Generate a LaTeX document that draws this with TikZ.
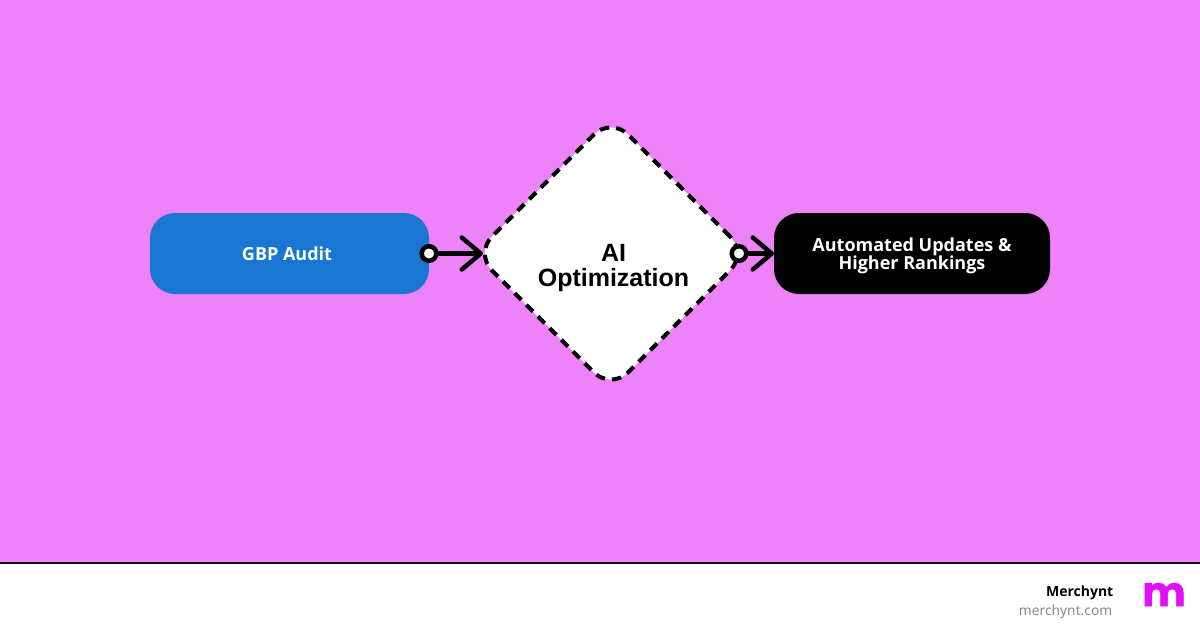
\documentclass[tikz,border=0pt]{standalone}
\usepackage{fontspec}
\setmainfont{Noto Sans}
\newfontfamily\uibold{Open Sans}
\newfontfamily\diafont{Liberation Sans}
\newfontfamily\logofont{Poppins}[BoldFeatures={FakeBold=1.2}]
\usetikzlibrary{shapes.geometric,arrows.meta}
\definecolor{bgpink}{HTML}{EE82F9}
\definecolor{bluebox}{HTML}{1976D2}
\definecolor{logopink}{HTML}{E010F8}
\definecolor{graytext}{HTML}{8A8A8A}
\tikzset{
  pill/.style={rounded corners=25pt,minimum height=81pt,inner sep=0pt,outer sep=0pt,align=center,text=white,font=\uibold\bfseries\fontsize{18}{18}\selectfont},
  dia/.style={diamond,aspect=1,minimum width=272pt,minimum height=272pt,inner sep=0pt,outer sep=0pt,fill=white,draw=black,line width=4pt,rounded corners=24pt,dash pattern=on 9.5pt off 7pt},
  portdot/.style={circle,minimum size=14.5pt,inner sep=0pt,outer sep=0pt,fill=white,draw=black,line width=4.5pt},
  conn/.style={draw=black,line width=4.5pt,-{Straight Barb[length=19pt,width=32pt,round]}}
}
\begin{document}
\begin{tikzpicture}[x=1pt,y=-1pt]
\useasboundingbox (0,0) rectangle (1200,630);
\fill[bgpink] (0,0) rectangle (1200,630);
\fill[white] (0,563) rectangle (1200,630);
\draw[black,line width=2pt] (0,563) -- (1200,563);
\node[pill,fill=bluebox,minimum width=279pt] (audit) at (289.5,253.5) {\hspace{-5pt}GBP Audit};
\node[pill,fill=black,minimum width=276pt] (updates) at (912,253.5) {\raisebox{-2pt}[13pt][4pt]{Automated Updates \&}\\[0pt]\raisebox{-2pt}[13pt][4pt]{Higher Rankings}};
\node[dia] (opt) at (611,253.5) {};
\node[align=center,inner sep=0pt,font=\diafont\bfseries\fontsize{25}{25}\selectfont] (optlabel) at (613.5,267.5) {AI\\Optimization};
\node[portdot] (d1) at (audit.east) {};
\node[portdot] (d2) at (739,253.5) {};
\path[conn,shorten >=-8pt] (d1) -- (opt.west);
\path[conn] (d2) -- (updates.west);
\node[anchor=east,inner sep=0pt,font=\uibold\bfseries\fontsize{14}{14}\selectfont] (brand) at (1113.5,593) {Merchynt};
\node[anchor=east,inner sep=0pt,text=graytext,font=\fontsize{13.8}{14}\selectfont] (site) at (1112.5,612) {merchynt.com};
\node[anchor=center,inner sep=0pt,text=logopink,font=\logofont\bfseries\fontsize{41}{41}\selectfont] (logo) at (1164,594.5) {m};
\end{tikzpicture}
\end{document}
